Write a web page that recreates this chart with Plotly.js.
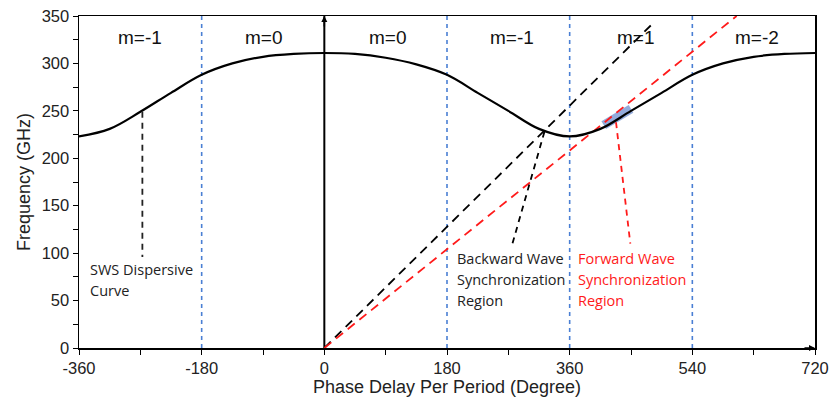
<!DOCTYPE html>
<html>
<head>
<meta charset="utf-8">
<script src="https://cdn.plot.ly/plotly-3.0.1.min.js"></script>
<style>html,body{margin:0;padding:0;background:#fff;}#chart{width:831px;height:401px;}</style>
</head>
<body>
<div id="chart"></div>
<script>
// Dispersion curve (phase delay in degrees, frequency in GHz)
const phaseDeg = [-360,-315,-270,-225,-180,-135,-90,-45,0,45,90,135,180,225,270,315,360,405,450,495,540,585,630,675,720];
const freqGHz  = [223,231,249,269,288,300,307,310,311,310,306,299,288,269,250,231,223,231,250,269,288,300,307,310,311];
// Tick labels
const xTickVals = [-360,-180,0,180,360,540,720];
const xTickText = ["-360","-180","0","180","360","540","720"];
const yTickVals = [0,50,100,150,200,250,300,350];
const yTickText = ["0","50","100","150","200","250","300","350"];
// Period boundaries (blue dashed)
const boundaries = [-180,180,360,540];
// Beam lines
const backBeamX = [0,479], backBeamY = [0,340];
const fwdBeamX = [0,605], fwdBeamY = [0,350];
// Pointer lines
const swsPtrX = [-267,-267], swsPtrY = [249,96];
const backPtrX = [323,276], backPtrY = [228,110];
const fwdPtrX = [428,449], fwdPtrY = [238,110];
// Forward synchronization band
const bandX = [410,425,440,450];
const bandY = [235,241,247,252];
// Mode labels
const modeLabels = ["m=-1","m=0","m=0","m=-1","m=1","m=-2"];
const modeX = [-270,-88,94,275,457,635];
const modeY = 327;

const traces = [];
boundaries.forEach(b => traces.push({x:[b,b], y:[0,350], mode:'lines', line:{color:'#4a7fd4', width:1.6, dash:'4px,4px'}, hoverinfo:'skip', showlegend:false}));
traces.push({x:[0,0], y:[0,350], mode:'lines', line:{color:'#000', width:2}, showlegend:false, hoverinfo:'skip'});
traces.push({x:bandX, y:bandY, mode:'lines', line:{color:'rgba(120,150,210,0.8)', width:9}, showlegend:false});
traces.push({x:backBeamX, y:backBeamY, mode:'lines', line:{color:'#000', width:1.8, dash:'9px,6px'}, showlegend:false});
traces.push({x:fwdBeamX, y:fwdBeamY, mode:'lines', line:{color:'#ff1a1a', width:1.8, dash:'9px,6px'}, showlegend:false});
traces.push({x:phaseDeg, y:freqGHz, mode:'lines', line:{color:'#000', width:2.2, shape:'spline', smoothing:1.0}, showlegend:false});
traces.push({x:swsPtrX, y:swsPtrY, mode:'lines', line:{color:'#222', width:1.8, dash:'6px,5px'}, showlegend:false});
traces.push({x:backPtrX, y:backPtrY, mode:'lines', line:{color:'#000', width:1.8, dash:'6px,5px'}, showlegend:false});
traces.push({x:fwdPtrX, y:fwdPtrY, mode:'lines', line:{color:'#ff1a1a', width:1.8, dash:'6px,5px'}, showlegend:false});

const annotations = [];
modeLabels.forEach((t,i) => annotations.push({x:modeX[i], y:modeY, text:t, showarrow:false, font:{family:'Liberation Sans, Arial', size:19, color:'#111'}}));
const noteFont = {family:'Open Sans, Noto Sans', size:14.5, color:'#222'};
const redFont = {family:'Open Sans, Noto Sans', size:14.5, color:'#ff1a1a'};
const notes = [
  [-346.5, 83.2, 'SWS Dispersive', noteFont],
  [-346.5, 61.1, 'Curve', noteFont],
  [192.4, 94.8, 'Backward Wave', noteFont],
  [192.4, 72.7, 'Synchronization', noteFont],
  [192.4, 50.6, 'Region', noteFont],
  [368.6, 94.8, 'Forward Wave', redFont],
  [368.6, 72.7, 'Synchronization', redFont],
  [368.6, 50.6, 'Region', redFont]
];
notes.forEach(n => annotations.push({x:n[0], y:n[1], text:n[2], xanchor:'left', yanchor:'middle', showarrow:false, font:n[3]}));
// axis arrowheads
annotations.push({x:720, y:0, ax:-12, ay:0, showarrow:true, arrowhead:2, arrowsize:0.8, arrowwidth:1.5, arrowcolor:'#000', text:''});
annotations.push({x:0, y:350, ax:0, ay:12, showarrow:true, arrowhead:2, arrowsize:0.8, arrowwidth:1.5, arrowcolor:'#000', text:''});

const tickFont = {family:'Liberation Sans, Arial', size:16.5, color:'#222'};
const layout = {
  width:831, height:401,
  margin:{l:79, r:16, t:16, b:53},
  paper_bgcolor:'#fff', plot_bgcolor:'#fff',
  xaxis:{range:[-360,720], tickmode:'array', tickvals:xTickVals, ticktext:xTickText, ticks:'outside', ticklen:5, tickcolor:'#000',
         minor:{tickmode:'linear', tick0:-360, dtick:90, ticks:'outside', ticklen:5, tickcolor:'#000'},
         showline:true, linecolor:'#000', linewidth:1.5, mirror:true, showgrid:false, zeroline:false,
         tickfont:tickFont, title:{text:'Phase Delay Per Period (Degree)', font:{family:'Liberation Sans, Arial', size:18, color:'#222'}, standoff:4}},
  yaxis:{range:[0,350], tickmode:'array', tickvals:yTickVals, ticktext:yTickText, ticks:'outside', ticklen:5, tickcolor:'#000',
         minor:{tickmode:'linear', tick0:0, dtick:25, ticks:'outside', ticklen:5, tickcolor:'#000'},
         showline:true, linecolor:'#000', linewidth:1.5, mirror:true, showgrid:false, zeroline:false,
         tickfont:tickFont, title:{text:'Frequency (GHz)', font:{family:'Liberation Sans, Arial', size:18, color:'#222'}, standoff:6}},
  annotations:annotations,
  showlegend:false
};
Plotly.newPlot('chart', traces, layout, {displayModeBar:false, staticPlot:true});
</script>
</body>
</html>
